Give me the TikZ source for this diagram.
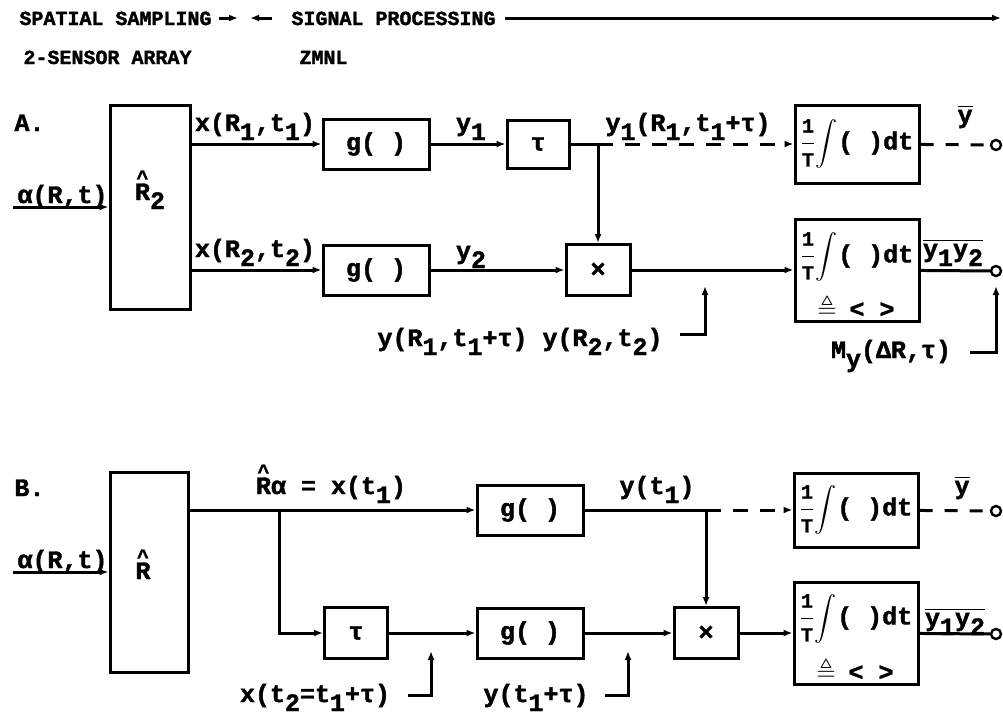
\documentclass[tikz,border=0pt]{standalone}
\usepackage{amssymb}
\usepackage{fontspec}
\setmainfont{Liberation Mono}[BoldFeatures={FakeBold=1.6}]
\usetikzlibrary{arrows.meta}

% typewriter-style helpers
\newcommand{\lo}[1]{\raisebox{-0.36em}{#1}}
\newcommand{\hatR}{\makebox[0pt][l]{\makebox[0.6em]{\raisebox{0.62em}[0.9em][0pt]{\fontsize{20}{20}\selectfont\textasciicircum}}}R}
\newcommand{\oneT}{$\displaystyle\frac{\mbox{\fontsize{20}{20}\selectfont 1}}{\mbox{\fontsize{20}{20}\selectfont T}}$}
\newcommand{\intdt}{\oneT{\fontsize{22}{22}\selectfont$\displaystyle\int$}\hspace{1pt}(\ )dt}
\newcommand{\avg}{\makebox[0.6em]{$\triangleq$}\ <\ >}

\begin{document}
\begin{tikzpicture}[
  x=1pt, y=-1pt,
  font=\fontsize{25}{28}\selectfont\bfseries,
  >={Latex[length=9pt,width=7pt]},
  line width=3pt,
  blk/.style 2 args={draw, inner sep=0pt, minimum width=#1, minimum height=#2},
  lbl/.style={inner sep=0pt},
  hdr/.style={inner sep=0pt, anchor=base west, font=\fontsize{20}{22}\selectfont\bfseries},
  flow/.style={->},
  dflow/.style={->, dash pattern=on 15pt off 12pt},
  dout/.style={dash pattern=on 13pt off 12pt},
  term/.style={circle, draw, line width=2.4pt, inner sep=0pt, minimum size=10pt},
]
\useasboundingbox (0,0) rectangle (1003,718);

% ============ header ============
\node[hdr] (hdsp) at (18,25) {SPATIAL SAMPLING};
\node[hdr] (hdsig) at (290,25) {SIGNAL PROCESSING};
\coordinate (spEnd) at (238,18);
\coordinate (sgEnd) at (250,18);
\coordinate (prEnd) at (1001,18);
\draw[flow, shorten <=6pt] (hdsp.east |- spEnd) -- (spEnd);
\draw[flow, shorten <=18pt] (hdsig.west |- sgEnd) -- (sgEnd);
\draw[flow, shorten <=8pt] (hdsig.east |- prEnd) -- (prEnd);
\node[hdr] (hdarr) at (22,64) {2-SENSOR ARRAY};
\node[hdr] (hdzm) at (298,64) {ZMNL};

% ============ A: 2-sensor array ============
\node[lbl, anchor=base west] (labA) at (13,131) {A.};
\node[blk={80}{204}] (rtwo) at (150,207) {};
\node[lbl, anchor=base] (rtwot) at (150,200) {\hatR\lo{2}};
\coordinate (inA) at (13,207);
\node[lbl, anchor=base west] (alA) at (16,203) {α(R,t)};
\draw[flow] (inA) -- (rtwo.west);

\node[blk={106}{50}] (gA1) at (376,144) {g( )};
\node[blk={106}{50}] (gA2) at (376,270) {g( )};
\draw[flow] (rtwo.east |- gA1) -- (gA1);
\draw[flow] (rtwo.east |- gA2) -- (gA2);
\node[lbl, anchor=base] (xA1) at (255,131) {x(R\lo1,t\lo1)};
\node[lbl, anchor=base] (xA2) at (255,257) {x(R\lo2,t\lo2)};

\node[blk={62}{48}] (tauA) at (538,144) {τ};
\node[blk={64}{51}] (mulA) at (598,270) {×};
\coordinate (jA) at (598,144);
\draw[flow] (gA1) -- (tauA);
\draw (tauA) -- (jA);
\draw[flow] (jA) -- (mulA);
\draw[flow] (gA2) -- (mulA);
\node[lbl, anchor=base] (yA1) at (471,131) {y\lo1};
\node[lbl, anchor=base] (yA2) at (471,259) {y\lo2};
\node[lbl, anchor=base] (ydA) at (688,131) {y\lo1(R\lo1,t\lo1+τ)};

\node[blk={124}{78}] (intA1) at (857,144) {\intdt};
\node[blk={124}{102}] (intA2) at (857,270) {};
\node[lbl] (intA2t) at (857,257) {\intdt};
\node[lbl] (intA2a) at (857,307) {\avg};
\draw[dflow] (jA) -- (intA1);
\draw[flow] (mulA) -- (intA2);

\node[term] (oA1) at (996,145) {};
\node[term] (oA2) at (996,271) {};
\draw[dout] (intA1) -- (oA1);
\draw (intA2) -- (oA2);
\node[lbl, anchor=base] (ybA) at (965,123) {$\overline{\mbox{y}}$};
\node[lbl, anchor=base] (yyA) at (953,257) {$\overline{\mbox{y\lo1y\lo2}}$};

% hooked pointers to the signals
\node[lbl, anchor=base] (ryA) at (520,346) {y(R\lo1,t\lo1+τ) y(R\lo2,t\lo2)};
\coordinate (hkA0) at (680,334);
\coordinate (hkA1) at (705,286);
\draw[flow] (hkA0) -| (hkA1);
\node[lbl, anchor=base] (myA) at (891,358) {M\lo{y}(ΔR,τ)};
\coordinate (hkM0) at (970,352);
\coordinate (hkM1) at (996,286);
\draw[flow] (hkM0) -| (hkM1);

% ============ B: single sensor, delayed ============
\node[lbl, anchor=base west] (labB) at (13,496) {B.};
\node[blk={78}{200}] (rhat) at (149,572) {};
\node[lbl, anchor=base] (rhatt) at (143,579) {\hatR};
\coordinate (inB) at (13,572);
\node[lbl, anchor=base west] (alB) at (16,568) {α(R,t)};
\draw[flow] (inB) -- (rhat.west);

\node[blk={106}{50}] (gB1) at (530,510) {g( )};
\node[blk={63}{51}] (tauB) at (356,633) {τ};
\node[blk={106}{50}] (gB2) at (530,633) {g( )};
\coordinate (brB) at (279,510);
\draw[flow] (rhat.east |- gB1) -- (gB1);
\draw[flow] (brB) |- (tauB);
\draw[flow] (tauB) -- (gB2);
\node[lbl, anchor=base] (rxB) at (331,494) {\hatR α = x(t\lo1)};

\node[blk={64}{51}] (mulB) at (706,633) {×};
\coordinate (jB) at (706,510);
\draw (gB1) -- (jB);
\draw[flow] (jB) -- (mulB);
\draw[flow] (gB2) -- (mulB);
\node[lbl, anchor=base] (ytB) at (657,494) {y(t\lo1)};

\node[blk={124}{74}] (intB1) at (856,510) {\intdt};
\node[blk={124}{102}] (intB2) at (856,633) {};
\node[lbl] (intB2t) at (856,619) {\intdt};
\node[lbl] (intB2a) at (856,670) {\avg};
\draw[dflow] (jB) -- (intB1);
\draw[flow] (mulB) -- (intB2);

\node[term] (oB1) at (996,511) {};
\node[term] (oB2) at (996,634) {};
\draw[dout] (intB1) -- (oB1);
\draw (intB2) -- (oB2);
\node[lbl, anchor=base] (ybB) at (962,494) {$\overline{\mbox{y}}$};
\node[lbl, anchor=base] (yyB) at (955,626) {$\overline{\mbox{y\lo1y\lo2}}$};

\node[lbl, anchor=base] (xtB) at (315,702) {x(t\lo2=t\lo1+τ)};
\node[lbl, anchor=base] (yttB) at (536,702) {y(t\lo1+τ)};
\coordinate (hkB0) at (408,695);
\coordinate (hkB1) at (431,651);
\coordinate (hkC0) at (605,695);
\coordinate (hkC1) at (628,651);
\draw[flow] (hkB0) -| (hkB1);
\draw[flow] (hkC0) -| (hkC1);

\end{tikzpicture}
\end{document}
